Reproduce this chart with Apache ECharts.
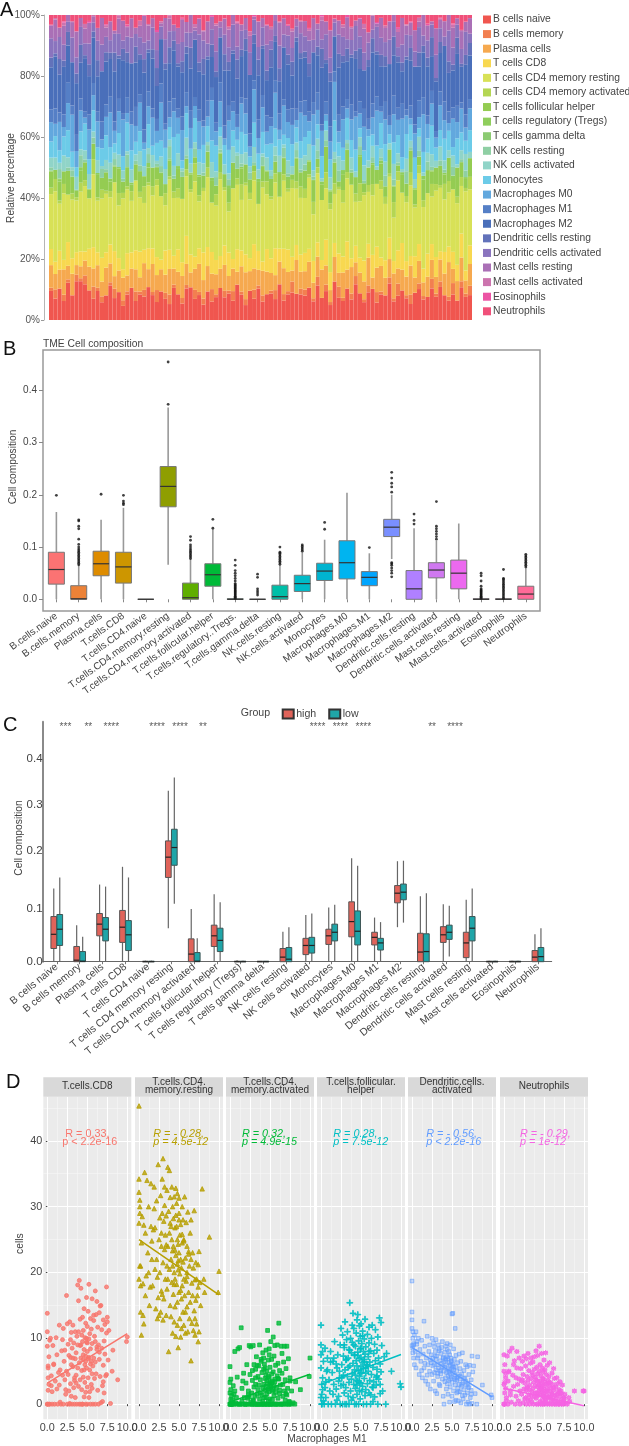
<!DOCTYPE html>
<html><head><meta charset="utf-8">
<style>html,body{margin:0;padding:0;background:#fff}#c{width:629px;height:1446px}</style>
<script src="https://cdn.jsdelivr.net/npm/echarts@6/dist/echarts.min.js"></script>
</head><body><div id="c"></div>
<script>
// ---------- Panel A: stacked composition ----------
const aCategories=["B cells naive","B cells memory","Plasma cells","T cells CD8","T cells CD4 memory resting","T cells CD4 memory activated","T cells follicular helper","T cells regulatory (Tregs)","T cells gamma delta","NK cells resting","NK cells activated","Monocytes","Macrophages M0","Macrophages M1","Macrophages M2","Dendritic cells resting","Dendritic cells activated","Mast cells resting","Mast cells activated","Eosinophils","Neutrophils"];
const aColors=["#F0564F","#F27F50","#F6A94F","#F8D850","#D8E157","#B4D653","#94CC52","#8FCE5C","#8CCB72","#8FCFA4","#90D4C8","#6CCBE8","#62A8DE","#557FC6","#4A6FBA","#6272BA","#8A74BE","#AA70B6","#CC74AE","#EC54A4","#F0507A"];
const aNaive=[9,7,10,6,11,8,12,13,12,10,7,9,6,8,11,7,9,5,8,10,6,9,7,11,8,6,9,7,5,10,8,6,9,11,7,8,5,9,6,8,10,7,9,6,11,8,5,9,7,10,6,8,9,7,11,6,8,10,7,9,8,10,6,12,7,9,5,11,8,6,10,7,13,9,6,8,11,5,9,7,12,6,8,10,7,5,9,11,6,8,10,7,12,8,5,9,6,11,7,8];
const aMemory=[1,3,0,2,1,0,2,1,3,0,4,1,2,0,1,3,0,2,1,0,3,1,2,0,1,4,0,2,3,1,0,2,1,0,3,1,2,0,4,1,0,2,1,3,0,1,2,0,3,1,2,0,1,3,0,2,1,4,0,2,2,0,1,3,0,2,1,0,4,1,0,2,3,0,1,2,0,3,1,0,2,1,4,0,1,3,0,2,1,0,3,1,2,0,1,4,0,2,1,3];
const aPlasma=[7,5,6,8,4,7,3,4,5,8,6,7,5,9,6,4,7,8,5,6,7,5,8,6,9,5,7,6,8,5,7,8,6,5,7,9,6,8,5,7,6,8,5,7,4,8,9,6,7,5,8,7,6,5,7,8,6,4,9,6,6,8,5,7,9,6,4,7,5,8,6,9,5,7,6,8,4,7,9,5,6,8,5,7,6,9,5,8,4,7,6,5,8,7,9,5,6,8,4,7];
const aCD8=[5,4,6,3,7,5,4,5,3,6,7,4,8,5,6,8,4,3,7,5,6,9,4,7,5,6,3,8,6,4,7,5,8,6,4,5,9,6,7,5,4,6,8,3,7,5,6,4,8,6,3,7,5,9,4,6,7,5,4,6,6,4,7,5,3,8,6,4,7,5,9,3,6,5,7,4,8,6,3,5,7,4,6,9,5,3,7,6,4,8,5,6,3,7,4,6,5,8,3,6];
const aCD4Rest=[17,23,15,21,14,19,16,20,22,17,24,16,20,19,15,22,17,25,20,16,22,19,14,21,17,24,20,15,22,18,16,23,17,21,25,15,20,22,16,19,24,17,14,22,20,16,23,18,21,15,24,17,20,22,16,21,18,25,15,20,18,22,15,24,19,16,21,14,23,17,20,25,16,19,22,15,21,18,24,16,20,14,23,17,19,22,16,25,18,21,15,20,23,17,14,22,19,16,24,18];
const aCD4Act=[2,4,1,3,0,2,1,3,2,0,5,1,3,1,2,0,4,2,1,3,0,2,5,1,3,2,0,4,1,2,3,0,2,1,6,2,1,3,0,4,2,1,3,0,2,5,1,2,3,0,2,4,1,3,0,2,1,3,2,4,3,1,4,2,0,5,2,3,1,4,2,0,3,6,1,2,4,0,3,2,1,5,3,0,2,4,1,3,2,0,4,2,1,5,3,0,2,3,1,4];
const aTfh=[5,3,6,4,7,5,2,4,6,3,5,7,4,6,3,5,8,4,6,2,5,7,3,5,6,4,7,3,5,4,6,8,3,5,2,6,4,5,7,3,6,4,5,8,3,5,6,4,2,7,5,3,6,4,7,5,3,2,6,5,6,4,7,3,5,8,4,6,2,5,7,4,6,9,3,5,7,4,6,3,8,5,2,6,4,7,5,3,6,8,4,5,7,3,6,4,9,5,3,6];
const aTregs=[0.3,0,0.8,0,0,0.5,0,1.2,0,0.2,0,0.6,0,0,1,0,0.4,0,0,0.7,0,0.3,0,1.5,0,0,0.5,0,0.2,0,0.9,0,0,0.4,0,0.6,0,0,1.1,0,0.3,0,0.7,0,0,0.5,0,0.2,0,1,0,0.4,0,0,0.6,0,0.8,0,0.3,0,0,0.4,0,0,0.9,0,0.3,0,0,1.3,0,0.2,0,0.6,0,0,0.5,0,1,0,0,0.3,0,0.7,0,0,0.4,0,1.1,0,0.2,0,0,0.6,0,0.8,0,0,0.3,0];
const aGamma=[0,0,0.2,0,0,0,0.3,0,0,0,0.1,0,0,0,0,0.4,0,0,0,0,0.2,0,0,0,0,0.1,0,0,0.3,0,0,0,0,0.2,0,0,0,0.1,0,0,0,0,0.3,0,0,0,0.2,0,0,0,0.1,0,0,0,0,0.2,0,0,0,0,0,0,0.1,0,0,0,0.3,0,0,0,0.2,0,0,0,0,0.1,0,0,0.2,0,0,0,0,0.3,0,0,0,0.1,0,0,0.2,0,0,0,0,0.1,0,0,0,0];
const aNKRest=[1,0,3,0,1,2,0,4,1,0,2,0,3,1,0,2,0,1,4,0,1,2,0,3,0,1,2,0,4,1,0,2,1,0,3,0,1,2,0,3,1,0,2,0,4,1,0,2,1,0,3,0,1,2,0,3,1,0,2,1,2,0,1,3,0,2,0,1,4,0,2,1,0,3,1,0,2,0,1,3,0,2,1,0,4,1,0,2,0,3,1,0,2,1,0,3,0,1,2,0];
const aNKAct=[3,4,2,5,3,1,4,2,3,5,2,4,1,3,5,2,4,3,1,4,2,5,3,2,4,1,3,5,2,3,4,1,5,3,2,4,3,1,5,2,4,3,2,5,1,3,4,2,5,3,1,4,2,3,5,1,4,3,2,4,3,5,2,4,1,3,4,2,5,3,1,4,2,3,5,2,4,1,3,4,2,5,3,1,4,2,3,5,1,3,4,2,5,3,2,4,1,3,5,2];
const aMono=[5,7,4,6,8,5,3,6,9,5,7,4,6,8,5,3,7,5,9,6,4,7,5,8,3,6,5,7,4,9,6,3,7,5,8,4,6,5,7,9,3,6,8,5,4,7,6,3,8,5,7,4,9,6,5,3,7,8,4,6,6,4,8,5,7,3,6,9,5,4,7,6,8,3,5,7,4,6,9,5,3,7,6,4,8,5,7,3,6,5,9,4,6,7,5,3,8,6,4,7];
const aM0=[6,4,9,3,8,12,5,7,2,10,5,8,3,6,11,4,7,13,3,8,5,10,2,6,9,4,12,6,3,8,5,11,2,7,4,9,6,3,13,5,8,2,10,6,4,9,7,3,11,5,8,4,6,12,3,9,5,7,2,10,7,3,10,5,8,2,6,11,4,9,3,7,12,5,8,2,6,10,4,7,3,9,5,13,6,2,8,4,11,5,7,3,9,6,2,10,5,8,4,7];
const aM1=[4,5,3,4,6,3,5,4,2,5,4,3,6,4,5,3,4,2,5,4,6,3,4,5,3,4,6,2,5,4,3,5,4,6,3,4,2,5,4,3,6,4,5,3,4,2,5,4,3,6,4,5,3,4,5,2,4,6,3,4,5,3,4,6,2,4,5,3,6,4,3,5,2,4,6,3,5,4,2,5,3,6,4,5,2,4,3,6,5,3,4,2,5,6,3,4,5,2,4,3];
const aM2=[13,17,12,15,11,14,16,12,18,13,15,11,17,14,12,16,13,19,11,15,14,12,17,13,16,11,14,18,12,15,13,16,11,14,19,12,15,13,10,16,14,17,12,15,11,13,16,18,12,14,15,11,17,13,10,16,14,12,18,15,14,11,16,13,18,12,15,10,17,14,12,16,19,11,13,15,18,12,14,10,17,13,15,11,16,14,19,12,13,17,11,15,14,18,10,13,16,12,15,14];
const aDCRest=[3,1,5,2,4,0,3,6,1,4,2,5,0,3,2,6,1,4,3,0,5,2,4,1,3,6,0,2,5,3,1,4,2,7,0,3,5,1,4,2,0,5,3,1,6,2,4,0,3,5,1,3,6,2,4,0,3,5,1,2,2,4,0,3,6,1,3,0,5,2,4,1,3,7,0,2,5,1,4,3,0,6,2,3,1,4,0,5,2,3,6,1,4,0,3,2,5,1,3,4];
const aDCAct=[6,4,7,5,3,8,5,6,4,7,3,6,9,5,4,6,7,3,5,8,4,6,5,3,7,6,4,8,5,3,6,7,4,5,3,9,6,4,5,7,3,6,5,8,4,6,3,7,5,4,6,8,3,5,7,4,6,5,3,7,5,7,4,6,3,8,5,4,7,6,3,5,9,4,6,5,3,7,6,4,8,5,3,6,7,4,5,9,3,6,4,7,5,3,8,6,4,5,7,3];
const aMastRest=[4,7,3,6,2,5,8,3,5,7,2,4,9,3,6,1,5,7,3,6,2,4,8,5,3,6,1,7,4,2,5,8,3,6,1,5,3,7,4,9,2,5,6,3,7,2,4,5,1,8,3,6,4,2,7,5,3,6,2,4,5,3,7,2,6,4,9,1,5,3,7,4,2,6,8,3,5,1,7,4,6,2,5,9,3,4,7,2,6,5,1,8,3,5,4,7,2,6,3,5];
const aMastAct=[0,0.5,0,1,0,0.3,0,0,1.5,0,0.4,0,0,0.8,0,0,1,0,0.3,0,0,1.8,0,0.5,0,0,0.6,0,1,0,0,0.4,0,0,1.2,0,0.3,0,0,0.7,0,0,1,0,0.5,0,0,1.4,0,0.2,0,0,0.8,0,0.3,0,0,1,0,0.4,0,0.6,0,0,1.2,0,0.3,0,0,0.9,0,0.5,0,0,1.6,0,0.2,0,0,0.7,0,0,1,0,0.4,0,0,1.3,0,0.3,0,0,0.6,0,0,1.1,0,0.4,0,0];
const aEos=[0.2,0,0,0.4,0,0,0.1,0,0,0.6,0,0,0,0.3,0,0,0.1,0,0.5,0,0,0,0.2,0,0,0.7,0,0,0.1,0,0,0.4,0,0,0,0.2,0,0,0.6,0,0,0.1,0,0,0.3,0,0,0,0.5,0,0,0.2,0,0,0.1,0,0.4,0,0,0,0,0.3,0,0,0.5,0,0,0.1,0,0,0.7,0,0,0.2,0,0,0,0.4,0,0,0.1,0,0.6,0,0,0.3,0,0,0,0.5,0,0,0.2,0,0,0.4,0,0,0.1,0];
const aNeut=[3,1,4,2,0,2,5,1,3,2,0,4,1,3,2,5,0,2,3,1,4,2,0,3,1,5,2,1,0,3,4,1,2,0,3,1,5,2,0,3,2,1,4,0,2,3,1,5,0,2,1,3,4,0,2,1,3,5,1,2,2,4,1,3,0,2,5,1,2,3,0,4,2,1,3,5,0,2,1,3,2,0,4,1,3,2,5,1,0,3,2,4,1,2,0,3,1,5,2,1];
const aValues=[aNaive,aMemory,aPlasma,aCD8,aCD4Rest,aCD4Act,aTfh,aTregs,aGamma,aNKRest,aNKAct,aMono,aM0,aM1,aM2,aDCRest,aDCAct,aMastRest,aMastAct,aEos,aNeut];
const aPercentTicks=[0,20,40,60,80,100];

// ---------- Panel B ----------
const bCategories=["B.cells.naive","B.cells.memory","Plasma.cells","T.cells.CD8","T.cells.CD4.naive","T.cells.CD4.memory.resting","T.cells.CD4.memory.activated","T.cells.follicular.helper","T.cells.regulatory..Tregs.","T.cells.gamma.delta","NK.cells.resting","NK.cells.activated","Monocytes","Macrophages.M0","Macrophages.M1","Macrophages.M2","Dendritic.cells.resting","Dendritic.cells.activated","Mast.cells.resting","Mast.cells.activated","Eosinophils","Neutrophils"];
const bColors=["#FB7373","#EC8237","#DE8C00","#CD9600","#B79F00","#8F9E00","#5FAE00","#00BA38","#00BE67","#00C19A","#00BFA8","#00BBC8","#00B4D0","#00B4F0","#00A5FF","#7A8FFF","#B080FF","#D078F0","#EC69EF","#FB61D7","#FF61C3","#FF6A98"];
const bStats=[[0,.029,.057,.09,.167],[0,0,.001,.026,.065],[0,.045,.068,.092,.152],[0,.031,.062,.09,.175],[0,0,0,0,0],[.066,.177,.216,.254,.367],[0,0,.003,.031,.077],[0,.025,.047,.068,.135],[0,0,0,.001,.001],[0,0,0,0,0],[0,0,.005,.027,.066],[0,.015,.03,.046,.09],[0,.036,.054,.069,.114],[0,.039,.07,.112,.204],[0,.026,.042,.053,.088],[.077,.12,.138,.153,.2],[0,0,.02,.055,.136],[0,.041,.056,.07,.112],[0,.02,.05,.075,.145],[0,0,0,.001,.001],[0,0,0,.001,.001],[0,0,.01,.025,.06]];
const bOutliers=[[.199],[.066,.069,.072,.075,.078,.081,.084,.087,.09,.093,.096,.1,.105,.115,.135,.14,.15,.152],[.201],[.181,.184,.188,.199],[],[.373,.454],[.078,.081,.084,.087,.09,.093,.096,.1,.104,.113,.12],[.136,.153],[.002,.004,.006,.008,.01,.012,.014,.016,.018,.02,.022,.024,.026,.028,.03,.035,.04,.045,.05,.055,.065,.075],[.008,.012,.016,.02,.042,.048],[.067,.07,.073,.076,.079,.082,.085,.088,.09,.1],[.092,.095,.098,.101,.104],[.134,.147],[],[.099],[.043,.05,.055,.06,.065,.068,.07,.205,.215,.222,.232,.243],[.144,.151,.163],[.115,.12,.125,.13,.135,.14,.187],[],[.002,.004,.006,.008,.01,.012,.014,.016,.018,.02,.025,.035,.045,.05],[.002,.005,.008,.011,.014,.017,.02,.023,.026,.029,.032,.035,.038,.04,.057],[.062,.065,.068,.071,.074,.077,.08,.083,.086]];

// ---------- Panel C ----------
const cCategories=["B cells naive","B cells memory","Plasma cells","T cells CD8","T cells CD4 naive","T cells CD4 memory resting","T cells CD4 memory activated","T cells follicular helper","T cells regulatory (Tregs)","T cells gamma delta","NK cells resting","NK cells activated","Monocytes","Macrophages M0","Macrophages M1","Macrophages M2","Dendritic cells resting","Dendritic cells activated","Mast cells resting","Mast cells activated","Eosinophils","Neutrophils"];
const cHigh=[[0,.026,.054,.089,.144],[0,0,.003,.03,.072],[0,.051,.074,.095,.152],[0,.038,.068,.101,.187],[0,0,0,.001,.002],[.066,.166,.206,.238,.337],[0,0,.015,.045,.104],[0,.03,.051,.072,.133],[0,0,0,.001,.003],[0,0,0,.001,.001],[0,0,.009,.026,.059],[0,.014,.032,.046,.092],[0,.034,.051,.064,.107],[0,.049,.079,.118,.204],[0,.033,.048,.058,.087],[.068,.116,.135,.15,.198],[0,0,.019,.056,.129],[0,.038,.053,.069,.113],[0,.008,.037,.058,.122],[0,0,0,.001,.002],[0,0,0,.001,.002],[0,0,.009,.022,.054]];
const cLow=[[0,.032,.064,.093,.166],[0,0,.001,.02,.049],[0,.041,.064,.087,.148],[0,.022,.053,.081,.166],[0,0,0,.001,.002],[.114,.19,.225,.261,.363],[0,0,.001,.018,.046],[0,.02,.042,.066,.117],[0,0,0,.001,.002],[0,0,0,.001,.001],[0,0,.005,.028,.068],[0,.017,.032,.048,.095],[0,.041,.058,.074,.112],[0,.033,.06,.1,.189],[0,.023,.037,.046,.078],[.077,.122,.137,.153,.199],[0,0,.02,.055,.135],[.01,.044,.058,.072,.11],[0,.041,.066,.089,.144],[0,0,0,.001,.002],[0,0,0,.001,.002],[0,0,.01,.028,.066]];
const cStarCats=[0,1,2,4,5,6,11,12,13,16,17];
const cStarText=["***","**","****","****","****","**","****","****","****","**","****"];
const cTickLabels=["0.0","0.1","0.2","0.3","0.4"];
const cTickAt=[0,.1033,.2187,.3088,.4];

// ---------- Panel D ----------
const dTitles=["T.cells.CD8","T.cells.CD4.\nmemory.resting","T.cells.CD4.\nmemory.activated","T.cells.follicular.\nhelper","Dendritic.cells.\nactivated","Neutrophils"];
const dColors=["#F8766D","#B79F00","#00BA38","#00BFC4","#619CFF","#F564E3"];
const dMacroM1=[0,0,0,0,0.1,0.1,0.1,0.2,0.2,0.3,
0.3,0.4,0.5,0.5,0.6,0.7,0.8,0.9,1,1.1,
1.2,1.3,1.4,1.5,1.5,1.6,1.7,1.8,1.9,2,
2,2.1,2.2,2.2,2.3,2.4,2.4,2.5,2.5,2.6,
2.6,2.7,2.7,2.8,2.8,2.9,2.9,3,3,3,
3.1,3.1,3.2,3.2,3.3,3.3,3.4,3.4,3.5,3.5,
3.5,3.6,3.6,3.7,3.7,3.8,3.8,3.8,3.9,3.9,
4,4,4,4.1,4.1,4.1,4.2,4.2,4.2,4.3,
4.3,4.3,4.4,4.4,4.4,4.5,4.5,4.5,4.5,4.6,
4.6,4.6,4.7,4.7,4.7,4.8,4.8,4.8,4.8,4.9,
4.9,4.9,5,5,5,5,5.1,5.1,5.1,5.2,
5.2,5.2,5.3,5.3,5.3,5.4,5.4,5.4,5.5,5.5,
5.5,5.6,5.6,5.6,5.7,5.7,5.8,5.8,5.9,5.9,
6,6,6,6.1,6.1,6.2,6.2,6.3,6.3,6.4,
6.4,6.5,6.5,6.6,6.6,6.7,6.7,6.8,6.8,6.9,
6.9,7,7,7.1,7.1,7.2,7.2,7.3,7.4,7.5,
7.4,7.5,7.6,7.7,7.9,8.2,8.1,8.8,9.9,10,
0.2,0.8,1.6,2.3,3.2,3.9,4.4,5,5.6,6.5,
0.1,1.2,2.8,3.6,4.2,4.8,5.2,5.8,6.2,7,
0,0.6,1.9,2.9,3.4,4.6,4.9,5.4,6,7.4];
const dCD8=[0,13.8,11,8.8,5.5,4,2.1,7.2,0,9.7,
0,10,4.3,2.8,0,8.9,6.1,0,3.5,10.1,
7.5,0,4.8,12,2.9,5.2,0,8.1,4.4,11.5,
0,6.5,3.7,8.2,1.5,16.5,5,12.2,0,9.1,
4.5,7.4,2,12.5,0,9.8,3.1,6,10.9,1.2,
8.5,0,5.7,12,2.5,9.3,4,0,11,6.9,
1,7.8,3.2,10.3,0,18.1,5.5,9,15.7,2.7,
0,6.3,18.8,8.9,3.7,12.9,17.6,7,0,10.5,
5.1,2.2,9.5,13.2,0,7.5,11.2,4.1,6.8,1.1,
8.3,14.5,3.3,10.1,6,0,12.3,7.3,1.8,9.4,
16.2,5.5,8,2.6,11.8,0,6.9,14.1,4,9.9,
18.2,7.1,1.9,10.7,5.2,0,13,8.4,3,6.5,
11.4,2.4,9.2,16,5.8,0,13.5,7,3.9,10.3,
6.4,17.2,0,13.6,4.6,8.7,15.6,2.1,11.7,0,
9,13.9,6.8,14.9,4.2,15,0.2,8.5,11.3,2.8,
0.4,12.8,5.9,9.6,1.7,12.1,7.6,4.3,10.8,13.2,
17.8,12.5,6.7,11.2,0.1,8.2,5,3.7,9.5,10.2,
3,6,0.3,2.2,7,11,0,9.3,4.6,7.9,
5.8,2.3,0.1,4.4,9,6.5,1,12.7,8.3,3.4,
0,1.9,9.8,7.1,3.6,5.2,10,6.1,9.5,4.5];
const dCD4Rest=[45.3,34.2,32.2,27.5,31,29,21,18,14,10.5,
24.5,28.5,13.5,18.3,12.2,35.2,26,19.5,34,23,
30,15,17.8,27,33.5,22,18,26.5,29.7,20.5,
26.8,14.5,30.9,22,19.3,36.4,16.2,25,13.5,28.3,
20,31.7,14,24,17.2,29,34.2,37.3,21.5,12.8,
27.8,16,23.5,30.2,19,25.7,13.5,28.6,21,32.5,
17.5,24,36,8,29.3,20.5,35.5,26,15,31.4,
22,27,13.3,33,18.5,25,21,30,10.8,24,
16.7,28.2,20,31.5,12.5,23.4,26.8,19,14.8,32.8,
22.6,10.3,27,18.2,30.5,21.3,15.5,25,12,24.3,
20.4,8.6,28,17,23,31.3,13,19.8,25.7,10.2,
22,27.3,16,20.7,11.5,24.5,18,30,14,21.6,
28,12,19,24.8,31.5,16.5,22.2,10.8,27.6,18.7,
14.8,24,20,11,29.2,17,23.2,13,21,26,
15.5,6.6,28,18.4,12.3,23,16.5,20.7,11.2,29.4,
14.2,18.9,10.5,21.5,15.8,12.2,19,16.5,21.2,23.2,
9.5,11,18.5,15,32.7,17,19,25.4,17,20.2,
21,16.5,24.8,13,33,27.5,18.2,29,25,22,
30,20,26,19,23.3,32,17.3,14,22.8,13,
19,27.2,33,16.7,24.2,28.7,21.8,25.8,19.4,17.8];
const dCD4Act=[0,5.7,3.3,1.7,0,0.7,2.2,0,1.3,0,
0.6,2.8,0,1.5,8,0.2,0,4.1,8.4,0,
8.6,0,11.6,2.4,0.5,0,4.7,1,0,3.2,
0,6,0.9,0,2,8.9,1.1,0,4.5,0.3,
8.7,0,1.7,3.6,0,8.9,0.6,2.6,0,6,
1.2,0,5.3,3,0,7.2,1.5,0,4.2,2.2,
0,5.8,2.9,0.8,9,1.7,0,3.7,6.5,0,
1.4,4.8,0,2.5,7.8,0.4,3,0,5.3,1,
0,6.1,2.1,3.9,0,1,8.2,4.4,2.7,0,
5,1.6,0,3.1,11.2,2.3,0.5,6.7,0,4,
1.9,8.4,0,3.3,5.6,0.8,2.6,0,9.5,4.6,
0,6.8,2,3.5,0.7,10.2,0,4.9,2.8,1.3,
7.3,0,3.4,8.9,1.8,5.9,0,2.5,4.3,9,
0.9,6.2,0,3.8,12.3,1.6,5.1,0,2.9,8.8,
0,4.7,7.7,1.2,3,0,6.4,2,8.8,0.6,
3.7,0,5.4,1.4,8.8,0,2.4,6.9,0.3,3.5,
0,4,0,2,0.2,3.4,0,2.2,4.2,7,
0,1,3.5,1.4,4,6.8,5.5,2.9,3.8,0,
3.8,0,5.1,0,7,4.2,3.2,0,2.1,1.6,
0,2,0,0.5,5.9,3.6,7.5,2.2,3.9,0.4];
const dTfh=[12,9,7.5,5.5,3,0,1.5,8,4,0.5,
6.5,0,2.5,8.5,1,5,7,0,3.7,2,
8,0,4.8,1.5,6.5,3,9.5,0,2.3,5.5,
0.6,7.5,3.5,1.2,5,9,0,11.5,2.8,6,
4,0,10.5,3,7.3,1.7,8.6,0,5.2,12.5,
2.5,6.7,0,9.8,4.2,11,1.2,7,3.3,8.3,
0,5.8,15.4,2,10,3.8,7.8,0.6,12,4.6,
13.8,6.2,1,9,3,11.5,5.2,0,7.4,2.4,
8.8,4.4,0,6.6,10.8,2.9,12.8,5.8,1.5,13.6,
7.9,3.5,9.6,0,5.1,11.9,2.1,6.9,4.2,8.4,
0.8,10.3,5.7,3.2,7.1,12.2,1.9,9.2,4.8,6.3,
11.1,2.7,8,0,5.4,3.9,9.9,6.8,1.3,7.6,
12.9,4.7,2.2,8.7,0,6,10.6,3.1,7.2,5,
1.7,9.3,11.7,3.6,6.4,0,8.1,4.5,10,2.6,
12,5.6,0.4,7.7,3.4,9.1,1.1,6.6,11.3,4.1,
2.9,8.2,5.3,0,10.2,7,3.8,13.1,6.1,12.4,
1.6,4.9,8.9,2,7.2,7.7,0,5,3.1,2.6,
2.2,5.2,7,4,6.8,9.4,3.6,8.5,5.5,2.5,
0,6.4,4.4,8.2,7.5,3.3,10.4,5.9,1.4,4.3,
1,3.4,6.1,9,5.6,7.4,4.7,6.5,8,3];
const dDCAct=[18.7,14,12.8,11.5,10,8.5,11,9,7,6,
10.5,8,11,5.5,9.5,7,10,4.5,8.3,6.5,
9.7,4,7.6,12.6,5.5,8.8,3.5,7,10.3,6,
3,8,5,9,2.3,7.5,6.3,4.5,10,5.8,
7,3.5,9.3,6,4.8,8,2,6.8,5.2,9.8,
1.6,7.3,4.2,6,9,5.5,3,8.1,5,6.6,
2.8,7.7,4.6,6.2,8.6,3.8,5.7,9.5,1.2,7,
5,6.4,0,3.4,7.9,5.6,4,8.8,6.7,2.3,
6,4.8,9.2,3.1,7.2,5.3,1.5,6.9,4.3,8,
3.6,6.3,5.1,0.3,7.5,4.5,9,2.6,5.9,6.6,
4.1,7,13.7,1.2,5.4,3.3,13.8,6.1,4.7,2,
8.4,5.2,0.4,3.9,6.8,4.4,11.5,2.9,5.7,0.6,
7.4,3.6,1.7,5,6.3,2.4,4.2,0.5,3,7.6,
5.4,1.9,3.8,0.2,6.5,4.6,2.7,1.3,7.8,3.3,
0.8,5.1,2.2,4,1.4,3.5,6,0,2.9,5.7,
1.7,3.2,0.3,4.5,2.5,0,5.9,1,3.7,7.3,
2.1,0.1,4.9,5.8,1.6,7.2,0,2.9,1.4,1,
9.2,7.4,6.2,6.7,4.7,7.1,8.3,5.8,4,3.9,
7.8,5.1,8.7,5.2,6.9,3.8,5.6,1.9,3,2.6,
8.9,9.1,4.4,7.3,8.4,4.9,6.4,3.7,4.3,1.5];
const dNeut=[7.5,5,3,0,1.7,0,6,2.4,4,0.5,
1,7.3,3.5,0,5,8,2,0.3,8.5,4.4,
2.7,6.6,0,4,1.2,8,3,0.5,7,2,
0,5.4,3.5,1.5,6.5,0.2,4.5,2.3,7.3,0.8,
3.2,5.8,1,0,6.9,2.6,4.2,0.6,7.7,3.6,
1.4,5.1,0,2.9,6.2,0.7,3.9,7,1.9,4.8,
0.3,2.4,6.4,3.3,0,5.3,1.1,7.2,2.8,4.1,
0.9,3.7,8.1,1.7,5.6,0,2.6,4.6,7.4,1.3,
3,0,5,2.1,8.8,0.4,3.5,6,1.5,2.5,
4.3,0,7.7,1.8,3.2,0.6,5.5,2.2,0,3.8,
1.2,4.9,2.7,0,6.7,1.6,3.4,0.2,5.2,2,
7.8,0.8,3.1,1.4,4.5,0,2.3,5.9,1,3.6,
0.1,2.9,4.2,1.1,0,6.3,1.9,3.3,0.5,2.4,
4.7,0,1.6,3,0.7,5.4,2.1,0,3.9,1.3,
0.4,2.6,0,4,1.5,0.2,3.1,1.8,0,2.2,
0,1.2,3.4,0.6,2,0,1.6,2.9,0.3,1,
0,0.8,1.5,0.2,0,0.4,1,2,2,2,
4.6,1.4,5.5,3.7,2.2,1.7,2.9,1.1,3.2,0.9,
3.3,6,2.1,4.4,3.5,2.8,0.6,1.2,2.5,1.7,
0,4.9,3.8,2.5,1.3,2.3,3.9,2,1.4,0.1];
const dValues=[dCD8,dCD4Rest,dCD4Act,dTfh,dDCAct,dNeut];
const dFitEnds=[[3.2,10.7],[25,16.6],[0.35,4.55],[3,7.55],[8.6,1.1],[2.4,-0.25]];
const dXTicks=[0,2.5,5,7.5,10], dXMinor=[1.25,3.75,6.25,8.75];
const dYTicks=[0,10,20,30,40], dYMinor=[5,15,25,35,45];
const dNotes=[[[65.3,1134,"R = 0.33,"],[62.3,1142.3,"p < 2.2e-16"]],[[153.3,1134,"R = - 0.28,"],[153.3,1142.3,"p = 4.5e-12"]],[[242,1134,"R = 0.32,"],[242,1142.3,"p = 4.9e-15"]],[[333.3,1134,"R = 0.28,"],[333.3,1142.3,"p = 7.5e-12"]],[[426.3,1134,"R = - 0.56,"],[426.3,1142.3,"p < 2.2e-16"]],[[520,1134,"R = - 0.29,"],[520,1142.3,"p = 1e-12"]]];

// ---------- building ----------
const FF="'Liberation Sans',Arial,sans-serif";
const grids=[],xAxes=[],yAxes=[],series=[],graphics=[];
function addGrid(g,x,y){grids.push(g);const i=grids.length-1;x.gridIndex=i;y.gridIndex=i;xAxes.push(x);yAxes.push(y);return{g:i,x:xAxes.length-1,y:yAxes.length-1};}
function txt(x,y,text,o={}){graphics.push({type:'text',x,y,rotation:o.rot||0,z:50,silent:true,style:{text,fill:o.color||'#444',fontFamily:FF,fontSize:o.size||10,fontStyle:o.italic?'italic':'normal',textAlign:o.align||'left',textVerticalAlign:'middle',lineHeight:o.lh}});}
const hid=(extra)=>Object.assign({show:false},extra);

// panel letters
txt(0,10.5,"A",{size:20,color:'#111'});txt(3,349,"B",{size:20,color:'#111'});txt(3,725.5,"C",{size:20,color:'#111'});txt(6,1082,"D",{size:20,color:'#111'});

// A
const nA=aNaive.length;
const aTotals=Array.from({length:nA},(_,i)=>aValues.reduce((s,a)=>s+a[i],0));
const A=addGrid({left:49,top:15,width:423,height:305},
 {type:'category',data:aNaive.map((_,i)=>i+1),show:false},
 {type:'value',min:0,max:100,offset:5,axisLine:{show:true,lineStyle:{color:'#b5b5b5'}},splitLine:{show:false},axisTick:{show:true,length:3,lineStyle:{color:'#999'},customValues:aPercentTicks},axisLabel:{customValues:aPercentTicks,margin:4,fontSize:10,color:'#555',fontFamily:FF,formatter:v=>v+'%'}});
aCategories.forEach((name,k)=>series.push({name,type:'bar',stack:'a',xAxisIndex:A.x,yAxisIndex:A.y,barCategoryGap:'0%',barWidth:'100%',itemStyle:{color:aColors[k],borderWidth:0},emphasis:{disabled:true},data:aValues[k].map((v,i)=>v/aTotals[i]*100)}));
txt(11,178,"Relative percentage",{rot:Math.PI/2,align:'center',size:10.1});

// box drawing through the axes' own scales
const mkBox=(halfW,off,fills,edge,whisk,whiskW,med)=>(params,api)=>{
 const i=api.value(0),p=k=>api.coord([i,api.value(k)]);
 const lo=p(1),q1=p(2),m=p(3),q3=p(4),hi=p(5),x=lo[0]+off;
 return{type:'group',children:[
  {type:'line',shape:{x1:x,y1:lo[1],x2:x,y2:q1[1]},style:{stroke:whisk,lineWidth:whiskW}},
  {type:'line',shape:{x1:x,y1:q3[1],x2:x,y2:hi[1]},style:{stroke:whisk,lineWidth:whiskW}},
  {type:'rect',shape:{x:x-halfW,y:q3[1],width:2*halfW,height:q1[1]-q3[1]},style:{fill:fills[i],stroke:edge,lineWidth:1}},
  {type:'line',shape:{x1:x-halfW,y1:m[1],x2:x+halfW,y2:m[1]},style:{stroke:med,lineWidth:1.2}}]};
};

// B
addGrid({show:true,left:43,top:350,width:497,height:261,borderColor:'#999',borderWidth:1.5,backgroundColor:'transparent'},hid({type:'value',min:0,max:1}),hid({type:'value',min:0,max:1}));
const bTicks=[0,.1,.2,.3,.4];
const B=addGrid({left:45.2,top:350,width:491.8,height:261},
 {type:'category',data:bCategories,axisLine:{show:false},axisTick:{show:true,alignWithLabel:true,length:3,lineStyle:{color:'#888'}},axisLabel:{interval:0,rotate:36,margin:4,fontSize:10,color:'#444',fontFamily:FF,hideOverlap:false}},
 {type:'value',min:-0.0224,max:.477,offset:2.2,axisLine:{show:false},splitLine:{show:false},axisTick:{show:true,length:4,lineStyle:{color:'#888'},customValues:bTicks},axisLabel:{customValues:bTicks,margin:6,fontSize:10,color:'#444',fontFamily:FF,formatter:v=>v.toFixed(1)}});
series.push({type:'custom',name:'bBox',xAxisIndex:B.x,yAxisIndex:B.y,encode:{x:0,y:[1,2,3,4,5]},renderItem:mkBox(8,0,bColors,'#777','#999',1.6,'#333'),data:bStats.map((s,i)=>[i,...s])});
const bOutPts=[];bOutliers.forEach((l,i)=>l.forEach(v=>bOutPts.push([i,v])));
series.push({type:'scatter',name:'bOut',xAxisIndex:B.x,yAxisIndex:B.y,symbol:'circle',symbolSize:2.8,itemStyle:{color:'#111'},data:bOutPts});
txt(43,344,"TME Cell composition",{size:10.3,color:'#444'});
txt(13,467,"Cell composition",{rot:Math.PI/2,align:'center',size:10.2});

// C
addGrid({left:43,top:721.7,width:508.7,height:240},
 {type:'value',min:0,max:1,axisLine:{show:true,onZero:false,lineStyle:{color:'#666',width:1}},axisTick:{show:false},axisLabel:{show:false},splitLine:{show:false}},
 {type:'value',min:0,max:1,axisLine:{show:true,onZero:false,lineStyle:{color:'#8a8a8a',width:2}},axisTick:{show:false},axisLabel:{show:false},splitLine:{show:false}});
const C=addGrid({left:45.3,top:721.7,width:504.1,height:240},
 {type:'category',data:cCategories,axisLine:{show:false},axisTick:{show:true,alignWithLabel:true,length:2.5,lineStyle:{color:'#777'}},axisLabel:{interval:0,rotate:39,margin:4,fontSize:10.4,color:'#444',fontFamily:FF,hideOverlap:false}},
 {type:'value',min:0,max:.4729,axisLine:{show:false},splitLine:{show:false},axisTick:{show:false,customValues:cTickAt},axisLabel:{customValues:cTickAt,margin:2.7,fontSize:11.5,color:'#444',fontFamily:FF,formatter:v=>cTickLabels[cTickAt.findIndex(t=>Math.abs(t-v)<1e-6)]}});
const fillAll=c=>cCategories.map(()=>c);
series.push({type:'custom',name:'high',xAxisIndex:C.x,yAxisIndex:C.y,encode:{x:0,y:[1,2,3,4,5]},itemStyle:{color:'#E0635A',borderColor:'#333',borderWidth:1},renderItem:mkBox(2.85,-3,fillAll('#E0635A'),'#555','#666',1.2,'#222'),data:cHigh.map((s,i)=>[i,...s])});
series.push({type:'custom',name:'low',xAxisIndex:C.x,yAxisIndex:C.y,encode:{x:0,y:[1,2,3,4,5]},itemStyle:{color:'#1FA5A8',borderColor:'#333',borderWidth:1},renderItem:mkBox(2.85,3,fillAll('#1FA5A8'),'#3d5555','#666',1.2,'#222'),data:cLow.map((s,i)=>[i,...s])});
series.push({type:'scatter',name:'stars',xAxisIndex:C.x,yAxisIndex:C.y,symbolSize:1,itemStyle:{color:'rgba(0,0,0,0)'},label:{show:true,position:'inside',offset:[8.7,1],fontSize:10,color:'#333',fontFamily:FF,formatter:p=>cStarText[p.dataIndex]},data:cStarCats.map(i=>[i,.4644])});
txt(19,838,"Cell composition",{rot:Math.PI/2,align:'center',size:10.3});
txt(240.7,713,"Group",{size:10.6,color:'#444'});

// D
const dLeft=[43.3,135,226,317,408,500],dW=88,dTop=1096.7,dH=322.6;
const plus="path://M4.4,0H5.6V4.4H10V5.6H5.6V10H4.4V5.6H0V4.4H4.4Z",aster="path://M5,0L6,3L9,1.5L7.5,4.3L10,5L7.5,5.9L9,8.5L6,7L5,10L4,7L1,8.5L2.5,5.9L0,5L2.5,4.3L1,1.5L4,3Z";
const dSym=[['circle',4,{}],['triangle',4.5,{}],['rect',3.8,{}],[plus,6,{}],['rect',3.6,{color:'rgba(97,156,255,.45)',borderWidth:.7}],[aster,5,{}]];
dLeft.forEach((L,k)=>{
 const first=k===0;
 const D=addGrid({show:true,left:L,top:dTop,width:dW,height:dH,backgroundColor:'#EBEBEB',borderWidth:0},
  {type:'value',min:-0.5,max:10.5,axisLine:{show:false},axisTick:{show:true,length:2,lineStyle:{color:'#444'},customValues:dXTicks},splitLine:{show:true,lineStyle:{color:'#fff',width:1}},axisLabel:{customValues:dXTicks,margin:3,fontSize:10.8,color:'#444',fontFamily:FF,formatter:v=>v.toFixed(1),hideOverlap:false}},
  {type:'value',min:-2.3,max:46.7,axisLine:{show:false},axisTick:{show:first,length:1.5,lineStyle:{color:'#444'},customValues:dYTicks},splitLine:{show:true,lineStyle:{color:'#fff',width:1}},axisLabel:{show:first,customValues:dYTicks,margin:1,fontSize:10.8,color:'#444',fontFamily:FF}});
 xAxes.push({gridIndex:D.g,type:'value',min:-0.5,max:10.5,position:'bottom',axisLine:{show:false},axisTick:{show:false,customValues:dXMinor},axisLabel:{show:false,customValues:dXMinor},splitLine:{show:true,lineStyle:{color:'#f6f6f6',width:.6}}});
 yAxes.push({gridIndex:D.g,type:'value',min:-2.3,max:46.7,position:'left',axisLine:{show:false},axisTick:{show:false,customValues:dYMinor},axisLabel:{show:false,customValues:dYMinor},splitLine:{show:true,lineStyle:{color:'#f6f6f6',width:.6}}});
 const [sym,size,st]=dSym[k];
 series.push({type:'scatter',name:'d'+k,xAxisIndex:D.x,yAxisIndex:D.y,symbol:sym,symbolSize:size,itemStyle:Object.assign({color:dColors[k],borderColor:dColors[k]},st),data:dMacroM1.map((x,i)=>[x,dValues[k][i]])});
 series.push({type:'line',name:'fit'+k,xAxisIndex:D.x,yAxisIndex:D.y,showSymbol:false,symbol:'none',lineStyle:{color:dColors[k],width:1.5},data:[[0,dFitEnds[k][0]],[10,dFitEnds[k][1]]]});
 graphics.push({type:'rect',z:40,silent:true,shape:{x:L,y:1077.3,width:dW,height:19.4},style:{fill:'#D9D9D9'}});
 txt(L+dW/2,1086.5,dTitles[k],{align:'center',size:10,color:'#333',lh:8.4});
 dNotes[k].forEach(n=>txt(n[0],n[1],n[2],{size:10.8,color:dColors[k],italic:k>0}));
});
txt(20,1243.7,"cells",{rot:Math.PI/2,align:'center',size:10.3});
txt(327,1439,"Macrophages M1",{align:'center',size:10.3});

const chart=echarts.init(document.getElementById('c'),null,{renderer:'canvas',width:629,height:1446});
chart.setOption({animation:false,backgroundColor:'#fff',tooltip:{show:false},textStyle:{fontFamily:FF},
 grid:grids,xAxis:xAxes,yAxis:yAxes,series,graphic:{elements:graphics},
 legend:[
  {data:aCategories,orient:'vertical',left:483,top:14.5,padding:0,itemWidth:8,itemHeight:8,itemGap:4.59,icon:'rect',selectedMode:false,textStyle:{fontSize:10.3,color:'#444',fontFamily:FF,lineHeight:9,padding:[0,0,0,-3]}},
  {data:['high','low'],orient:'horizontal',left:281.7,top:708.5,padding:0,itemWidth:11,itemHeight:9,itemGap:12,icon:'rect',selectedMode:false,textStyle:{fontSize:10.6,color:'#444',fontFamily:FF,lineHeight:9,padding:[0,0,0,-2.5]}}
 ]});
</script></body></html>
